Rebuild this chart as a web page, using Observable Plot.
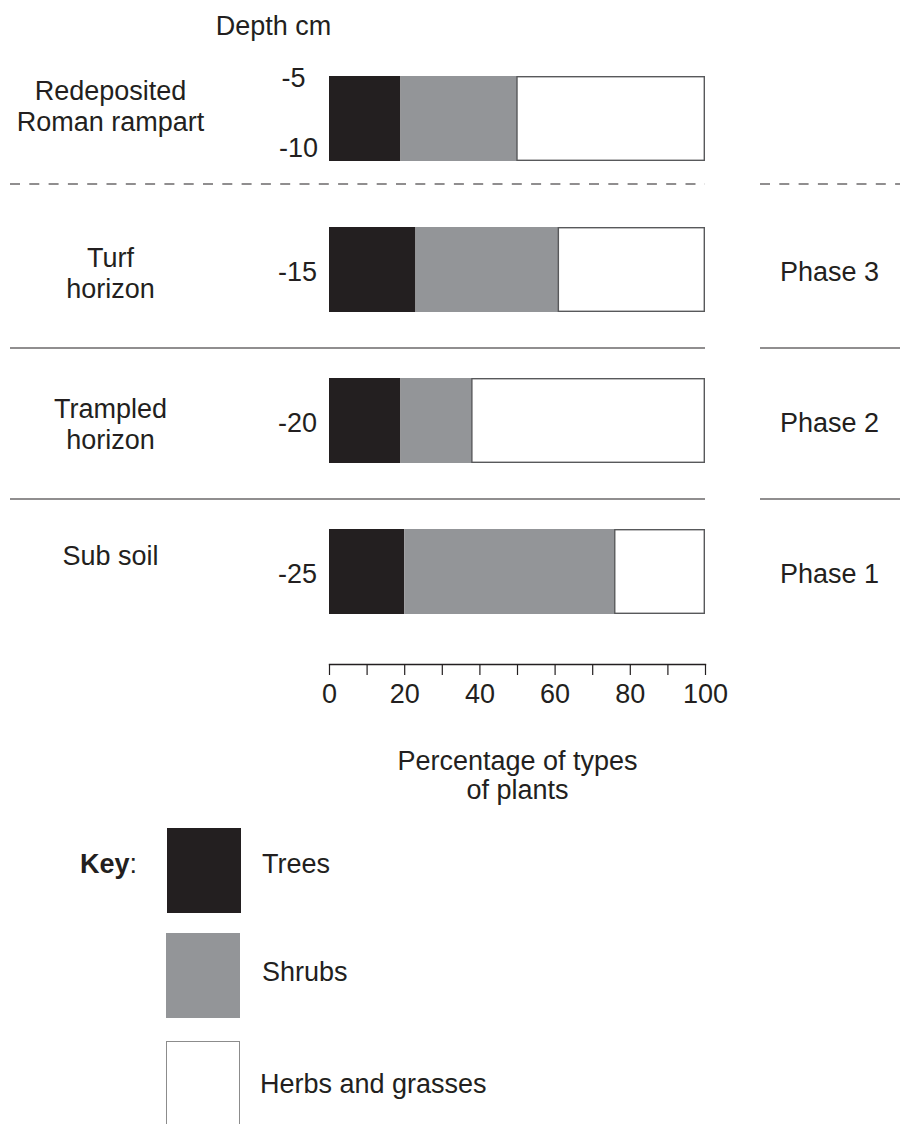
<!DOCTYPE html>
<html>
<head>
<meta charset="utf-8">
<script src="https://cdn.jsdelivr.net/npm/d3@7"></script>
<script src="https://cdn.jsdelivr.net/npm/@observablehq/plot@0.6"></script>
<style>
  html, body { margin: 0; padding: 0; background: #fff; overflow: hidden; }
  body { width: 900px; height: 1124px; font-family: "Liberation Sans", Arial, Helvetica, sans-serif; color: #231f20; }
  #legend { position: relative; width: 900px; height: 314px; }
  #legend > div { position: absolute; }
  .lab { font-size: 27px; line-height: 1; transform: translateY(-50%); white-space: nowrap; }
</style>
</head>
<body>
<div id="chart"></div>
<div id="legend"></div>
<script>
// ---- data ----
const layers = ["Redeposited\nRoman rampart", "Turf\nhorizon", "Trampled\nhorizon", "Sub soil"];
const trees  = [19, 23, 19, 20];
const shrubs = [31, 38, 19, 56];
const herbs  = [50, 39, 62, 24];
const depthLabels = [["-5", "-10"], ["-15"], ["-20"], ["-25"]];
const phases = ["", "Phase 3", "Phase 2", "Phase 1"];
const types  = ["Trees", "Shrubs", "Herbs and grasses"];
const colors = ["#231f20", "#939598", "#ffffff"];
const xTicks = [0, 10, 20, 30, 40, 50, 60, 70, 80, 90, 100];
const xLabelEvery = 20;
const xTitle = "Percentage of types\nof plants";
const yTitle = "Depth cm";
const keyTitle = "Key";

// ---- table built from the arrays ----
const series = [trees, shrubs, herbs];
const table = layers.flatMap((layer, i) => {
  let acc = 0;
  return types.map((type, k) => {
    const v = series[k][i];
    const row = {layer, type, value: v, x1: acc, x2: acc + v};
    acc += v;
    return row;
  });
});
const phaseData = layers.map((layer, i) => ({layer, phase: phases[i]})).filter(d => d.phase);
const singleDepths = layers.map((layer, i) => ({layer, labels: depthLabels[i]})).filter(d => d.labels.length === 1);
const doubleDepths = layers.map((layer, i) => ({layer, labels: depthLabels[i]})).filter(d => d.labels.length === 2);

const ink = "#231f20";
const font = 27;

const plot = Plot.plot({
  width: 900,
  height: 810,
  marginLeft: 329,
  marginRight: 195,
  marginTop: 0,
  marginBottom: 146,
  style: {fontFamily: '"Liberation Sans", Arial, Helvetica, sans-serif', fontSize: font + "px", color: ink, background: "#fff", overflow: "visible"},
  x: {domain: [xTicks[0], xTicks[xTicks.length - 1]]},
  y: {type: "band", domain: layers, range: [75, 614], paddingInner: 0.438, paddingOuter: 0, axis: null},
  color: {domain: types, range: colors},
  marks: [
    // separators
    Plot.ruleY([layers[1]], {y: d => d, dy: -86, insetLeft: -319, insetRight: 0, stroke: ink, strokeWidth: 1.1, strokeDasharray: "10,9.3"}),
    Plot.ruleY([layers[1]], {y: d => d, dy: -86, insetLeft: 431, insetRight: -195, stroke: ink, strokeWidth: 1.1, strokeDasharray: "10,9.3"}),
    Plot.ruleY([layers[2], layers[3]], {y: d => d, dy: -73, insetLeft: -319, insetRight: 0, stroke: ink, strokeWidth: 1.1}),
    Plot.ruleY([layers[2], layers[3]], {y: d => d, dy: -73, insetLeft: 431, insetRight: -195, stroke: ink, strokeWidth: 1.1}),
    // bars
    Plot.barX(table, {x1: "x1", x2: "x2", y: "layer", fill: "type"}),
    Plot.barX(table.filter(d => d.type === types[2]), {x1: "x1", x2: "x2", y: "layer", fill: "none", stroke: "#58595b", strokeWidth: 1.4, insetTop: 0.7, insetBottom: 0.7, insetRight: 0.7}),
    // x axis
    Plot.frame({anchor: "bottom", stroke: ink, strokeWidth: 1.3}),
    Plot.axisX({ticks: xTicks, tickSize: 11, tickPadding: 8, tickFormat: d => d % xLabelEvery === 0 ? String(d) : "", fontSize: font, color: ink, strokeWidth: 1.2, label: null}),
    Plot.text([xTitle], {x: () => (xTicks[0] + xTicks[xTicks.length - 1]) / 2, frameAnchor: "bottom", text: d => d, lineAnchor: "top", dy: 84, lineHeight: 1.1, fontSize: font, fill: ink}),
    // depth title
    Plot.text([yTitle], {frameAnchor: "top-left", text: d => d, dx: -56, dy: 26, textAnchor: "middle", lineAnchor: "middle", fontSize: font, fill: ink}),
    // depth labels
    Plot.text(singleDepths, {y: "layer", text: d => d.labels[0], frameAnchor: "left", dx: -32, dy: 2, textAnchor: "middle", lineAnchor: "middle", fontSize: font, fill: ink}),
    Plot.text(doubleDepths, {y: "layer", text: d => d.labels[0], frameAnchor: "left", dx: -36, dy: -41, textAnchor: "middle", lineAnchor: "middle", fontSize: font, fill: ink}),
    Plot.text(doubleDepths, {y: "layer", text: d => d.labels[1], frameAnchor: "left", dx: -31, dy: 29, textAnchor: "middle", lineAnchor: "middle", fontSize: font, fill: ink}),
    // layer names
    ...layers.map((layer, i) => Plot.text([layer], {y: d => d, text: d => d, frameAnchor: "left", dx: -219, dy: [-13, 3, 3, -17][i], textAnchor: "middle", lineAnchor: "middle", lineHeight: 1.15, fontSize: font, fill: ink})),
    // phases
    Plot.text(phaseData, {y: "layer", text: "phase", frameAnchor: "right", dx: 124, dy: 2, textAnchor: "middle", lineAnchor: "middle", fontSize: font, fill: ink})
  ]
});
document.getElementById("chart").appendChild(plot);

// ---- legend (key) ----
const legend = document.getElementById("legend");
const top0 = 810;
const key = document.createElement("div");
key.className = "lab";
key.style.left = "80px";
key.style.top = (864 - top0) + "px";
key.innerHTML = "<b>" + keyTitle + "</b>:";
legend.appendChild(key);
const swTop = [828, 933, 1041];
const labY = [864, 972, 1084];
types.forEach((t, k) => {
  const sw = document.createElement("div");
  sw.style.left = (k === 0 ? 167 : 166) + "px";
  sw.style.top = (swTop[k] - top0) + "px";
  sw.style.width = "74px";
  sw.style.height = "85px";
  sw.style.background = colors[k];
  sw.style.boxSizing = "border-box";
  if (k === 2) { sw.style.border = "1px solid #8c8c8c"; sw.style.height = "100px"; }
  legend.appendChild(sw);
  const lab = document.createElement("div");
  lab.className = "lab";
  lab.style.left = (k === 2 ? 260 : 262) + "px";
  lab.style.top = (labY[k] - top0) + "px";
  lab.textContent = t;
  legend.appendChild(lab);
});
</script>
</body>
</html>
